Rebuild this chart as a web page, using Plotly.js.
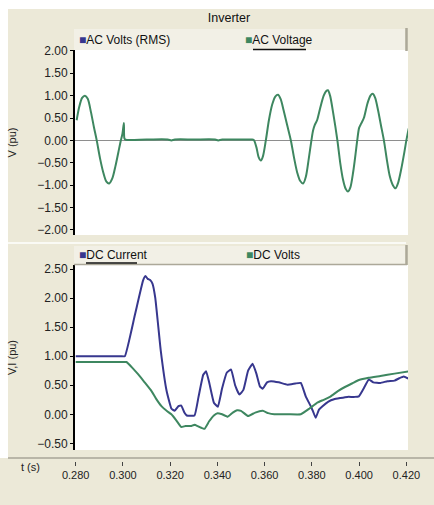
<!DOCTYPE html>
<html><head><meta charset="utf-8">
<script src="https://cdn.plot.ly/plotly-3.0.1.min.js"></script>
<style>html,body{margin:0;padding:0;background:#ECE9D8;} #chart{width:434px;height:505px;}</style>
</head><body><div id="chart"></div>
<script>
// ---- data ----
const chartTitle = 'Inverter';
const legendTop = ['AC Volts (RMS)', 'AC Voltage'];
const legendBottom = ['DC Current', 'DC Volts'];
const yTitleTop = 'V (pu)';
const yTitleBottom = 'V,I (pu)';
const xTitle = 't (s)';

const acTime = [0.2804,0.2815,0.2827,0.2839,0.2851,0.2865,0.2877,0.2889,0.2903,0.2917,0.2930,0.2942,0.2955,0.2968,0.2980,0.2991,0.2998,0.3004,0.3006,0.3010,
  0.3100,0.3190,0.3205,0.3220,0.3300,0.3390,0.3403,0.3420,0.3480,0.3530,0.3545,0.3554,0.3565,0.3575,0.3584,0.3593,0.3605,0.3618,0.3632,0.3645,0.3657,0.3668,0.3680,0.3695,0.3711,
  0.3725,0.3738,0.3750,0.3763,0.3775,0.3787,0.3798,0.3805,0.3812,0.3822,0.3835,0.3850,0.3860,0.3868,0.3877,0.3890,0.3908,0.3920,0.3932,0.3943,
  0.3953,0.3963,0.3975,0.3985,0.3992,0.4000,0.4009,0.4020,0.4035,0.4048,0.4058,0.4068,0.4080,0.4092,0.4105,0.4118,0.4130,0.4143,0.4154,0.4165,
  0.4178,0.4192,0.4200,0.4210];
const acVoltage = [0.45,0.75,0.95,1.00,0.93,0.62,0.30,0.00,-0.40,-0.72,-0.92,-0.96,-0.85,-0.58,-0.28,0.00,0.15,0.39,0.05,0.02,
  0.02,0.02,0.00,0.02,0.02,0.02,0.00,0.02,0.02,0.02,0.02,0.01,-0.15,-0.38,-0.45,-0.35,0.00,0.45,0.80,0.98,1.02,0.92,0.68,0.35,0.00,
  -0.40,-0.72,-0.90,-0.96,-0.80,-0.40,0.00,0.22,0.34,0.45,0.72,1.00,1.10,1.12,1.00,0.62,0.00,-0.50,-0.88,-1.08,
  -1.14,-1.05,-0.70,-0.30,0.00,0.28,0.38,0.50,0.82,1.00,1.04,0.95,0.68,0.35,0.00,-0.45,-0.80,-1.00,-1.07,-0.95,
  -0.65,-0.25,0.00,0.27];

const dcCurrentTime = [0.2800,0.2990,0.3008,0.3050,0.3085,0.3095,0.3105,0.3115,0.3125,0.3137,0.3160,0.3185,0.3205,0.3219,0.3235,0.3247,0.3260,0.3270,0.3303,
  0.3320,0.3340,0.3352,0.3365,0.3385,0.3402,0.3420,0.3440,0.3458,0.3475,0.3493,0.3510,0.3530,0.3549,0.3565,0.3580,0.3592,0.3610,0.3627,0.3660,
  0.3697,0.3730,0.3753,0.3774,0.3795,0.3805,0.3816,0.3830,0.3845,0.3870,0.3894,0.3920,0.3950,0.3980,0.3999,0.4020,0.4041,0.4060,0.4090,0.4120,
  0.4150,0.4170,0.4189,0.4210];
const dcCurrent = [1.00,1.00,1.00,1.70,2.30,2.38,2.33,2.31,2.25,2.00,1.10,0.40,0.10,0.06,0.14,0.15,0.03,-0.02,-0.02,
  0.30,0.68,0.74,0.55,0.20,0.13,0.45,0.72,0.77,0.50,0.34,0.42,0.75,0.87,0.70,0.48,0.44,0.55,0.57,0.55,
  0.51,0.53,0.54,0.31,0.14,0.05,-0.06,0.08,0.14,0.22,0.26,0.28,0.30,0.30,0.31,0.45,0.60,0.55,0.54,0.57,
  0.58,0.62,0.65,0.61];

const dcVoltsTime = [0.2800,0.3000,0.3015,0.3040,0.3064,0.3090,0.3121,0.3140,0.3163,0.3185,0.3205,0.3225,0.3247,0.3265,0.3290,0.3303,0.3320,0.3345,0.3365,
  0.3385,0.3401,0.3420,0.3444,0.3465,0.3483,0.3500,0.3530,0.3560,0.3592,0.3615,0.3641,0.3700,0.3753,0.3790,0.3823,0.3850,0.3880,0.3910,0.3940,
  0.3970,0.3999,0.4040,0.4090,0.4150,0.4210];
const dcVolts = [0.90,0.90,0.90,0.80,0.69,0.56,0.40,0.27,0.14,0.06,0.00,-0.10,-0.22,-0.20,-0.20,-0.18,-0.21,-0.25,-0.12,
  -0.02,0.02,0.00,-0.04,0.03,0.07,0.06,-0.03,0.03,0.06,0.02,0.00,0.00,0.00,0.10,0.20,0.25,0.31,0.40,0.47,
  0.53,0.59,0.63,0.66,0.70,0.74];

const yTicksTop = [-2.0,-1.5,-1.0,-0.5,0.0,0.5,1.0,1.5,2.0];
const yTicksBottom = [-0.5,0.0,0.5,1.0,1.5,2.0,2.5];
const xTicks = [0.28,0.30,0.32,0.34,0.36,0.38,0.40,0.42];

// ---- styling ----
const BEIGE = '#ECE9D8';
const BOX = '#F2F0E6';
const SHADOW = '#ACA899';
const BLUE = '#37378E';
const GREEN = '#3E8760';
const FONT = 'Liberation Sans, Arial, sans-serif';
const W = 434, H = 505, ML = 75, MR = 26;
const PW = W - ML - MR;
const fx = px => (px - ML) / PW;
const fy = py => 1 - py / H;

const traces = [
  {x: acTime, y: acVoltage, xaxis: 'x', yaxis: 'y', mode: 'lines', name: legendTop[1],
   line: {color: GREEN, width: 2, shape: 'spline', smoothing: 0.8}},
  {x: dcCurrentTime, y: dcCurrent, xaxis: 'x2', yaxis: 'y2', mode: 'lines', name: legendBottom[0],
   line: {color: BLUE, width: 2, shape: 'spline', smoothing: 0.35}},
  {x: dcVoltsTime, y: dcVolts, xaxis: 'x2', yaxis: 'y2', mode: 'lines', name: legendBottom[1],
   line: {color: GREEN, width: 2, shape: 'spline', smoothing: 0.35}}
];

const xRange = [0.2797, 0.4207];
const yAxisCommon = {
  ticks: 'outside', ticklen: 3, tickwidth: 1, tickcolor: '#000',
  showline: true, linecolor: '#000', linewidth: 2, showgrid: false,
  tickformat: '.2f', tickfont: {family: FONT, size: 12, color: '#222'},
  fixedrange: true
};

const layout = {
  width: W, height: H,
  margin: {l: ML, r: MR, t: 0, b: 0, pad: 0},
  paper_bgcolor: BEIGE, plot_bgcolor: '#FFFFFF',
  showlegend: false,
  title: {text: chartTitle, font: {family: FONT, size: 12.5, color: '#111'},
    xref: 'container', yref: 'container', x: 229 / W, y: fy(18), xanchor: 'center', yanchor: 'middle'},
  xaxis: {domain: [0, 1], range: xRange, anchor: 'y', showticklabels: false, ticks: '',
    showline: false, showgrid: false, zeroline: false},
  yaxis: Object.assign({}, yAxisCommon, {domain: [fy(235), fy(50)], range: [-2.112, 2.019],
    tickvals: yTicksTop, zeroline: true, zerolinecolor: '#8E8E8E', zerolinewidth: 1,
    title: {text: yTitleTop, font: {family: FONT, size: 11, color: '#222'}, standoff: 18}}),
  xaxis2: {domain: [0, 1], range: xRange, anchor: 'free', position: fy(461), ticks: 'outside', ticklen: 4,
    tickcolor: '#444', tickvals: xTicks, tickformat: '.3f', showline: false, showgrid: false, zeroline: false,
    tickfont: {family: FONT, size: 11, color: '#222'}},
  yaxis2: Object.assign({}, yAxisCommon, {domain: [fy(450), fy(265)], range: [-0.614, 2.569],
    tickvals: yTicksBottom, zeroline: false,
    title: {text: yTitleBottom, font: {family: FONT, size: 11, color: '#222'}, standoff: 18}}),
  shapes: [
    {type: 'rect', xref: 'paper', yref: 'paper', x0: fx(0), x1: fx(W), y0: fy(9), y1: fy(0), fillcolor: '#FFFFFF', line: {width: 0}, layer: 'below'},
    {type: 'rect', xref: 'paper', yref: 'paper', x0: fx(0), x1: fx(8), y0: fy(458), y1: fy(0), fillcolor: '#FFFFFF', line: {width: 0}, layer: 'below'},
    {type: 'line', xref: 'paper', yref: 'paper', x0: fx(8), x1: fx(406), y0: fy(243), y1: fy(243), line: {color: '#FFFFFF', width: 1.5}, layer: 'below'},
    // legend boxes
    {type: 'rect', xref: 'paper', yref: 'paper', x0: fx(74), x1: fx(405), y0: fy(50), y1: fy(29), fillcolor: BOX, line: {width: 0}, layer: 'below'},
    {type: 'line', xref: 'paper', yref: 'paper', x0: fx(406.5), x1: fx(406.5), y0: fy(51), y1: fy(28), line: {color: SHADOW, width: 2.5}},
    {type: 'rect', xref: 'paper', yref: 'paper', x0: fx(74), x1: fx(405), y0: fy(264), y1: fy(246), fillcolor: BOX, line: {width: 0}, layer: 'below'},
    {type: 'line', xref: 'paper', yref: 'paper', x0: fx(406.5), x1: fx(406.5), y0: fy(265), y1: fy(245), line: {color: SHADOW, width: 2.5}},
    {type: 'line', xref: 'paper', yref: 'paper', x0: fx(74), x1: fx(407), y0: fy(264.5), y1: fy(264.5), line: {color: SHADOW, width: 1.5}},
    // underlines of the selected legend entries
    {type: 'line', xref: 'paper', yref: 'paper', x0: fx(253), x1: fx(306), y0: fy(49.5), y1: fy(49.5), line: {color: '#111', width: 1.5}},
    {type: 'line', xref: 'paper', yref: 'paper', x0: fx(86), x1: fx(137), y0: fy(263), y1: fy(263), line: {color: '#111', width: 1.5}},
    // time-axis separator line
    {type: 'line', xref: 'paper', yref: 'paper', x0: fx(8), x1: fx(W), y0: fy(458), y1: fy(458), line: {color: '#B9B6A8', width: 2}, layer: 'below'}
  ],
  annotations: [
    {text: '<span style="color:' + BLUE + '">■</span>' + legendTop[0], xref: 'paper', yref: 'paper', x: fx(77), y: fy(40), xanchor: 'left', yanchor: 'middle', showarrow: false, font: {family: FONT, size: 12, color: '#111'}},
    {text: '<span style="color:' + GREEN + '">■</span>' + legendTop[1], xref: 'paper', yref: 'paper', x: fx(243), y: fy(40), xanchor: 'left', yanchor: 'middle', showarrow: false, font: {family: FONT, size: 12, color: '#111'}},
    {text: '<span style="color:' + BLUE + '">■</span>' + legendBottom[0], xref: 'paper', yref: 'paper', x: fx(77), y: fy(255), xanchor: 'left', yanchor: 'middle', showarrow: false, font: {family: FONT, size: 12, color: '#111'}},
    {text: '<span style="color:' + GREEN + '">■</span>' + legendBottom[1], xref: 'paper', yref: 'paper', x: fx(244), y: fy(255), xanchor: 'left', yanchor: 'middle', showarrow: false, font: {family: FONT, size: 12, color: '#111'}},
    {text: xTitle, xref: 'paper', yref: 'paper', x: fx(30), y: fy(467), xanchor: 'center', yanchor: 'middle', showarrow: false, font: {family: FONT, size: 11, color: '#222'}}
  ]
};

Plotly.newPlot('chart', traces, layout, {staticPlot: true, displayModeBar: false});
</script>
</body></html>
